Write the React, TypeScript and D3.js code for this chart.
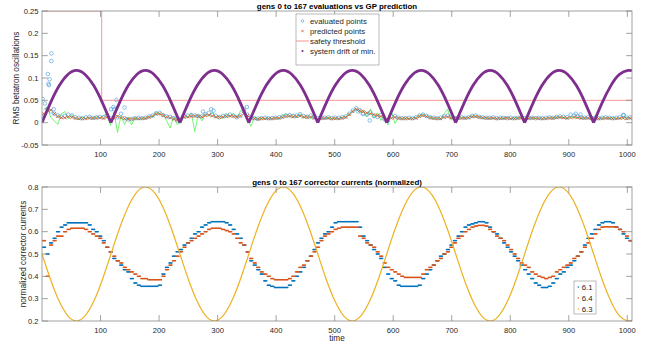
import * as d3 from 'd3'

const W = 647
const H = 343
const FONT = 'Liberation Sans, Arial, Helvetica, sans-serif'
const INK = '#262626'
const AXIS = '#8a8a8a'

const X_TICKS = [100, 200, 300, 400, 500, 600, 700, 800, 900, 1000]
const TOP_Y_TICKS = [-0.05, 0, 0.05, 0.1, 0.15, 0.2, 0.25]
const BOT_Y_TICKS = [0.2, 0.3, 0.4, 0.5, 0.6, 0.7, 0.8]

// one value per generation; generation g covers evaluations 6g+1 .. 6g+6
const EVALUATED = [
  0.015, 0.03, 0.025, 0.02, 0.016, 0.013, 0.015, 0.018, 0.016, 0.012,
  0.011, 0.01, 0.012, 0.013, 0.011, 0.012, 0.013, 0.012, 0.016, 0.01,
  0.03, 0.012, 0.02, 0.01, 0.007, 0.008, 0.01, 0.011, 0.01, 0.011,
  0.014, 0.016, 0.021, 0.022, 0.017, 0.014, 0.013, 0.01, 0.005, 0.008,
  0.014, 0.016, 0.017, 0.016, 0.015, 0.014, 0.019, 0.022, 0.018, 0.015,
  0.012, 0.015, 0.016, 0.018, 0.016, 0.012, 0.016, 0.025, 0.018, 0.012,
  0.01, 0.009, 0.01, 0.011, 0.01, 0.01, 0.011, 0.012, 0.014, 0.016,
  0.017, 0.015, 0.016, 0.019, 0.015, 0.013, 0.016, 0.012, 0.01, 0.011,
  0.011, 0.012, 0.01, 0.011, 0.011, 0.012, 0.014, 0.02, 0.027, 0.032,
  0.028, 0.02, 0.018, 0.023, 0.015, 0.013, 0.017, 0.008, 0.005, 0.014,
  0.015, 0.011, 0.01, 0.01, 0.011, 0.01, 0.012, 0.016, 0.018, 0.015,
  0.012, 0.011, 0.01, 0.011, 0.014, 0.016, 0.013, 0.01, 0.011, 0.012,
  0.011, 0.012, 0.015, 0.016, 0.013, 0.012, 0.011, 0.011, 0.012, 0.01,
  0.011, 0.011, 0.01, 0.011, 0.01, 0.011, 0.012, 0.01, 0.011, 0.011,
  0.01, 0.011, 0.01, 0.011, 0.012, 0.011, 0.013, 0.014, 0.013, 0.012,
  0.018, 0.016, 0.014, 0.012, 0.011, 0.012, 0.01, 0.011, 0.01, 0.011,
  0.012, 0.011, 0.01, 0.011, 0.012, 0.017, 0.011, 0.012,
]
// scattered evaluations away from the band: [time, value]
const EVAL_OUTLIERS: [number, number][] = [
  [1, 0.053], [5, 0.043], [10, 0.109], [11, 0.087], [12, 0.084], [13, 0.097],
  [16, 0.155], [16, 0.138], [20, 0.03], [118, 0.03], [122, 0.035], [127, 0.051],
  [141, 0.034], [275, 0.025], [289, 0.03], [293, 0.027], [345, 0.03], [350, 0.035],
  [540, 0.025], [548, 0.02], [560, 0.005], [912, 0.02], [920, 0.018], [994, 0.017],
]
const PREDICTED = [
  0.02, 0.028, 0.028, 0.02, 0.014, 0.011, 0.011, 0.013, 0.012, 0.01,
  0.009, 0.009, 0.009, 0.01, 0.01, 0.01, 0.011, 0.01, 0.012, 0.008,
  0.01, 0.014, 0.011, 0.009, 0.008, 0.008, 0.009, 0.009, 0.009, 0.01,
  0.012, 0.015, 0.019, 0.02, 0.016, 0.013, 0.011, 0.008, 0.006, 0.007,
  0.012, 0.013, 0.014, 0.015, 0.014, 0.013, 0.016, 0.017, 0.015, 0.013,
  0.012, 0.013, 0.014, 0.015, 0.014, 0.013, 0.015, 0.02, 0.016, 0.01,
  0.009, 0.008, 0.009, 0.009, 0.009, 0.009, 0.01, 0.01, 0.012, 0.014,
  0.015, 0.013, 0.014, 0.015, 0.013, 0.012, 0.013, 0.01, 0.008, 0.009,
  0.01, 0.01, 0.009, 0.009, 0.009, 0.01, 0.012, 0.018, 0.025, 0.03,
  0.027, 0.025, 0.022, 0.02, 0.018, 0.016, 0.014, 0.01, 0.006, 0.01,
  0.012, 0.01, 0.009, 0.009, 0.009, 0.009, 0.01, 0.014, 0.016, 0.014,
  0.011, 0.01, 0.009, 0.009, 0.012, 0.013, 0.011, 0.009, 0.01, 0.01,
  0.01, 0.011, 0.013, 0.014, 0.012, 0.011, 0.01, 0.01, 0.01, 0.009,
  0.009, 0.01, 0.01, 0.009, 0.009, 0.01, 0.01, 0.009, 0.009, 0.01,
  0.01, 0.009, 0.009, 0.009, 0.01, 0.01, 0.011, 0.012, 0.011, 0.01,
  0.011, 0.012, 0.011, 0.01, 0.01, 0.01, 0.009, 0.009, 0.009, 0.009,
  0.01, 0.01, 0.009, 0.009, 0.01, 0.01, 0.009, 0.01,
]
const GREEN_TRACE = [
  0.03, 0.035, 0.012, 0.004, -0.004, 0.02, 0.025, 0.008, 0.018, 0.009,
  0.007, 0.012, 0.009, 0.013, 0.008, 0.014, 0.01, 0.016, 0.02, -0.006,
  0.024, -0.022, 0.016, -0.004, 0.013, -0.005, 0.012, 0.006, 0.011, 0.008,
  0.015, 0.012, 0.024, 0.017, 0.02, 0.004, -0.012, 0.014, -0.004, 0,
  0.02, 0.01, 0.022, -0.02, 0.018, 0.004, 0.02, 0.015, 0.022, 0.01,
  0.016, 0.009, 0.019, 0.012, 0.02, 0.011, 0.026, 0.03, 0.004, -0.008,
  0.012, 0.005, 0.011, 0.008, 0.01, 0.009, 0.012, 0.008, 0.016, 0.02,
  0.012, 0.018, 0.011, 0.02, 0.01, 0.016, 0.008, 0.018, 0.002, 0.011,
  0.008, 0.012, 0.009, 0.011, 0.008, 0.012, 0.014, 0.02, 0.026, 0.03,
  0.022, 0.028, 0.014, 0.03, 0.01, 0.022, 0.005, 0.018, -0.005, 0.025,
  -0.002, 0.012, 0.008, 0.011, 0.009, 0.01, 0.012, 0.016, 0.02, 0.012,
  0.014, 0.008, 0.011, 0.006, 0.02, 0.03, 0.006, 0.014, 0.008, 0.012,
  0.01, 0.012, 0.016, 0.012, 0.014, 0.01, 0.012, 0.008, 0.011, 0.009,
  0.011, 0.008, 0.012, 0.009, 0.011, 0.01, 0.012, 0.008, 0.01, 0.011,
  0.009, 0.011, 0.008, 0.01, 0.012, 0.01, 0.013, 0.011, 0.012, 0.009,
  0.013, 0.011, 0.012, 0.009, 0.011, 0.01, 0.008, 0.01, 0.009, 0.011,
  0.01, 0.009, 0.011, 0.01, 0.009, 0.011, 0.012, 0.01,
]
const SAFETY: [number, number][] = [[0, 0.25], [102, 0.25], [102, 0.05], [1008, 0.05]]

// smooth curves, read at eighth-period steps
const SAMPLE_T = [
  0, 14.7, 29.5, 44.2, 58.9, 73.6, 88.4, 103.1, 117.8, 132.5, 147.3, 162, 176.7, 191.4,
  206.2, 220.9, 235.6, 250.3, 265.1, 279.8, 294.5, 309.2, 324, 338.7, 353.4, 368.1, 382.9,
  397.6, 412.3, 427, 441.8, 456.5, 471.2, 485.9, 500.7, 515.4, 530.1, 544.8, 559.6, 574.3,
  589, 603.7, 618.5, 633.2, 647.9, 662.6, 677.4, 692.1, 706.8, 721.5, 736.3, 751, 765.7,
  780.4, 795.2, 809.9, 824.6, 839.3, 854.1, 868.8, 883.5, 898.2, 913, 927.7, 942.4, 957.1,
  971.9, 986.6, 1001.3, 1008,
]
const DRIFT = [
  0, 0.045, 0.083, 0.108, 0.117, 0.108, 0.083, 0.045,
  0, 0.045, 0.083, 0.108, 0.117, 0.108, 0.083, 0.045,
  0, 0.045, 0.083, 0.108, 0.117, 0.108, 0.083, 0.045,
  0, 0.045, 0.083, 0.108, 0.117, 0.108, 0.083, 0.045,
  0, 0.045, 0.083, 0.108, 0.117, 0.108, 0.083, 0.045,
  0, 0.045, 0.083, 0.108, 0.117, 0.108, 0.083, 0.045,
  0, 0.045, 0.083, 0.108, 0.117, 0.108, 0.083, 0.045,
  0, 0.045, 0.083, 0.108, 0.117, 0.108, 0.083, 0.045,
  0, 0.045, 0.083, 0.108, 0.117, 0.116,
]
const C63 = [
  0.5, 0.385, 0.288, 0.223, 0.2, 0.223, 0.288, 0.385, 0.5, 0.615, 0.712, 0.777, 0.8, 0.777, 0.712, 0.615,
  0.5, 0.385, 0.288, 0.223, 0.2, 0.223, 0.288, 0.385, 0.5, 0.615, 0.712, 0.777, 0.8, 0.777, 0.712, 0.615,
  0.5, 0.385, 0.288, 0.223, 0.2, 0.223, 0.288, 0.385, 0.5, 0.615, 0.712, 0.777, 0.8, 0.777, 0.712, 0.615,
  0.5, 0.385, 0.288, 0.223, 0.2, 0.223, 0.288, 0.385, 0.5, 0.615, 0.712, 0.777, 0.8, 0.777, 0.712, 0.615,
  0.5, 0.385, 0.288, 0.223, 0.2, 0.203,
]
const C61 = [
  0.53, 0.5, 0.55, 0.57, 0.6, 0.62, 0.63, 0.64, 0.64, 0.64,
  0.64, 0.64, 0.64, 0.63, 0.61, 0.6, 0.58, 0.56, 0.53, 0.51,
  0.48, 0.47, 0.45, 0.43, 0.42, 0.39, 0.37, 0.36, 0.355, 0.355,
  0.355, 0.355, 0.355, 0.36, 0.41, 0.44, 0.46, 0.49, 0.51, 0.52,
  0.54, 0.55, 0.57, 0.59, 0.6, 0.62, 0.63, 0.64, 0.645, 0.645,
  0.645, 0.645, 0.64, 0.63, 0.61, 0.59, 0.57, 0.54, 0.51, 0.47,
  0.45, 0.43, 0.41, 0.38, 0.36, 0.355, 0.35, 0.35, 0.35, 0.35,
  0.36, 0.38, 0.4, 0.42, 0.44, 0.47, 0.49, 0.52, 0.55, 0.57,
  0.59, 0.6, 0.62, 0.64, 0.645, 0.645, 0.645, 0.645, 0.645, 0.645,
  0.62, 0.58, 0.56, 0.54, 0.52, 0.5, 0.48, 0.44, 0.41, 0.39,
  0.38, 0.36, 0.355, 0.355, 0.355, 0.355, 0.355, 0.36, 0.39, 0.41,
  0.43, 0.45, 0.47, 0.49, 0.5, 0.52, 0.54, 0.56, 0.58, 0.6,
  0.62, 0.63, 0.635, 0.64, 0.645, 0.645, 0.64, 0.62, 0.6, 0.59,
  0.57, 0.55, 0.53, 0.51, 0.49, 0.47, 0.45, 0.43, 0.41, 0.39,
  0.37, 0.36, 0.35, 0.35, 0.355, 0.37, 0.39, 0.41, 0.42, 0.44,
  0.45, 0.47, 0.49, 0.51, 0.54, 0.57, 0.59, 0.61, 0.63, 0.64,
  0.645, 0.645, 0.64, 0.62, 0.61, 0.59, 0.57, 0.56,
]
const C64 = [
  0.56, 0.4, 0.54, 0.56, 0.58, 0.58, 0.6, 0.61, 0.615, 0.615,
  0.615, 0.615, 0.61, 0.6, 0.59, 0.58, 0.57, 0.55, 0.53, 0.51,
  0.49, 0.47, 0.46, 0.44, 0.43, 0.42, 0.41, 0.4, 0.39, 0.39,
  0.385, 0.385, 0.385, 0.385, 0.4, 0.43, 0.45, 0.47, 0.49, 0.51,
  0.53, 0.55, 0.56, 0.57, 0.58, 0.59, 0.6, 0.61, 0.615, 0.615,
  0.615, 0.61, 0.605, 0.6, 0.59, 0.57, 0.55, 0.54, 0.51, 0.48,
  0.46, 0.44, 0.42, 0.41, 0.4, 0.39, 0.385, 0.385, 0.385, 0.385,
  0.39, 0.4, 0.42, 0.44, 0.45, 0.47, 0.49, 0.51, 0.53, 0.56,
  0.58, 0.59, 0.6, 0.61, 0.615, 0.62, 0.62, 0.62, 0.62, 0.62,
  0.58, 0.57, 0.55, 0.54, 0.53, 0.51, 0.49, 0.46, 0.44, 0.43,
  0.42, 0.41, 0.4, 0.395, 0.395, 0.395, 0.395, 0.395, 0.41, 0.43,
  0.44, 0.45, 0.47, 0.48, 0.5, 0.51, 0.53, 0.55, 0.57, 0.58,
  0.6, 0.61, 0.62, 0.625, 0.628, 0.628, 0.625, 0.61, 0.6, 0.58,
  0.57, 0.56, 0.54, 0.52, 0.5, 0.48, 0.46, 0.45, 0.44, 0.42,
  0.41, 0.4, 0.395, 0.39, 0.395, 0.4, 0.42, 0.43, 0.44, 0.45,
  0.46, 0.48, 0.49, 0.51, 0.53, 0.55, 0.57, 0.59, 0.61, 0.62,
  0.622, 0.622, 0.622, 0.62, 0.61, 0.6, 0.58, 0.56,
]

const BLUE = '#0072BD'
const ORANGE = '#D95319'
const YELLOW = '#EDB120'
const PURPLE = '#7E2F8E'

const genT = (g: number) => 6 * g + 3
const genEvals = (g: number) => d3.range(1, 7).map((k) => 6 * g + k)

const x = d3.scaleLinear().domain([0, 1008]).range([42, 632])
const yTop = d3.scaleLinear().domain([-0.05, 0.25]).range([145, 11])
const yBot = d3.scaleLinear().domain([0.2, 0.8]).range([321, 187])

function Frame({ y, yTicks, fmt }: { y: d3.ScaleLinear<number, number>; yTicks: number[]; fmt: (v: number) => string }) {
  const [x0, x1] = x.range()
  const [yb, yt] = y.range()
  const tl = 5.9
  return (
    <g>
      <rect x={x0} y={yt} width={x1 - x0} height={yb - yt} fill="none" stroke={AXIS} strokeWidth={0.8} />
      {X_TICKS.map((t) => (
        <g key={t}>
          <line x1={x(t)} x2={x(t)} y1={yb} y2={yb - tl} stroke={AXIS} strokeWidth={0.8} />
          <line x1={x(t)} x2={x(t)} y1={yt} y2={yt + tl} stroke={AXIS} strokeWidth={0.8} />
          <text x={x(t)} y={yb + 11.5} textAnchor="middle" fontSize={7.6} fill={INK}>{t}</text>
        </g>
      ))}
      {yTicks.map((v) => (
        <g key={v}>
          <line x1={x0} x2={x0 + tl} y1={y(v)} y2={y(v)} stroke={AXIS} strokeWidth={0.8} />
          <line x1={x1} x2={x1 - tl} y1={y(v)} y2={y(v)} stroke={AXIS} strokeWidth={0.8} />
          <text x={38.5} y={y(v) + 2.7} textAnchor="end" fontSize={7.6} fill={INK}>{fmt(v)}</text>
        </g>
      ))}
    </g>
  )
}

export default function App() {
  const gens = d3.range(EVALUATED.length)

  const green = d3.line<number>().x((g) => x(genT(g))).y((g) => yTop(GREEN_TRACE[g]))(gens) ?? ''
  const safety = d3.line<[number, number]>().x((d) => x(d[0])).y((d) => yTop(d[1]))(SAFETY) ?? ''

  // split drift into arches at its zeros so the cusps stay sharp
  const arches: number[][] = []
  let cur: number[] = []
  DRIFT.forEach((v, i) => {
    cur.push(i)
    if (v === 0 && i > 0) {
      arches.push(cur)
      cur = [i]
    }
  })
  arches.push(cur)
  const driftLine = d3.line<number>().x((i) => x(SAMPLE_T[i])).y((i) => yTop(DRIFT[i])).curve(d3.curveNatural)
  const c63Line = d3.line<number>().x((i) => x(SAMPLE_T[i])).y((i) => yBot(C63[i])).curve(d3.curveNatural)

  return (
    <svg width={W} height={H} style={{ position: 'absolute', left: 0, top: 0, background: '#fff' }} fontFamily={FONT}>
      <defs>
        <clipPath id="clipTop"><rect x={42} y={11} width={590} height={134} /></clipPath>
        <clipPath id="clipBot"><rect x={42} y={187} width={590} height={134} /></clipPath>
      </defs>

      {/* top panel */}
      <g clipPath="url(#clipTop)">
        <path d={green} fill="none" stroke="#39f239" strokeWidth={0.7} />
        {gens.map((g) => (
          <circle key={g} cx={x(genT(g))} cy={yTop(EVALUATED[g])} r={1.8} fill="none" stroke="#3f98d8" strokeWidth={0.6} />
        ))}
        {EVAL_OUTLIERS.map(([t, v], i) => (
          <circle key={'o' + i} cx={x(t)} cy={yTop(v)} r={1.8} fill="none" stroke="#3f98d8" strokeWidth={0.6} />
        ))}
        {gens.map((g) => {
          const cx = x(genT(g))
          const cy = yTop(PREDICTED[g])
          const s = 1.5
          return <path key={'p' + g} d={`M${cx - s},${cy - s}L${cx + s},${cy + s}M${cx - s},${cy + s}L${cx + s},${cy - s}`} stroke={ORANGE} strokeWidth={0.8} />
        })}
        <path d={safety} fill="none" stroke="#f58a8a" strokeWidth={0.9} />
        {arches.map((a, i) => (
          <path key={'a' + i} d={driftLine(a) ?? ''} fill="none" stroke={PURPLE} strokeWidth={2.8} />
        ))}
      </g>
      <Frame y={yTop} yTicks={TOP_Y_TICKS} fmt={(v) => String(v)} />
      <text x={337} y={9.3} textAnchor="middle" fontSize={7.9} fontWeight="bold" fill="#000">gens 0 to 167 evaluations vs GP prediction</text>
      <text transform="translate(18.5,78) rotate(-90)" textAnchor="middle" fontSize={8.2} fill={INK}>RMS betatron oscillations</text>

      {/* top legend */}
      <g fontSize={7.8} fill={INK}>
        <rect x={296} y={14} width={83} height={51} fill="#fff" stroke="#8c8c8c" strokeWidth={0.6} />
        <circle cx={302.5} cy={21} r={1.3} fill="none" stroke="#3f98d8" strokeWidth={0.6} />
        <path d="M301.3,29.8L303.7,32.2M301.3,32.2L303.7,29.8" stroke={ORANGE} strokeWidth={0.7} />
        <line x1={296} x2={309} y1={41} y2={41} stroke="#f58a8a" strokeWidth={0.9} />
        <circle cx={302.5} cy={51} r={1.1} fill={PURPLE} />
        <text x={310} y={23.8}>evaluated points</text>
        <text x={310} y={33.8}>predicted points</text>
        <text x={310} y={43.8}>safety threshold</text>
        <text x={310} y={53.8}>system drift of min.</text>
      </g>

      {/* bottom panel */}
      <g clipPath="url(#clipBot)">
        {gens.map((g) => genEvals(g).map((t) => (
          <rect key={'b' + t} x={x(t) - 0.65} y={yBot(C61[g]) - 0.65} width={1.3} height={1.3} fill={BLUE} />
        )))}
        {gens.map((g) => genEvals(g).map((t) => (
          <rect key={'r' + t} x={x(t) - 0.65} y={yBot(C64[g]) - 0.65} width={1.3} height={1.3} fill={ORANGE} />
        )))}
        <path d={c63Line(d3.range(SAMPLE_T.length)) ?? ''} fill="none" stroke={YELLOW} strokeWidth={1.2} />
      </g>
      <Frame y={yBot} yTicks={BOT_Y_TICKS} fmt={(v) => String(v)} />
      <text x={337} y={185} textAnchor="middle" fontSize={7.9} fontWeight="bold" fill="#000">gens 0 to 167 corrector currents (normalized)</text>
      <text transform="translate(25.5,254) rotate(-90)" textAnchor="middle" fontSize={8.2} fill={INK}>normalized corrector currents</text>
      <text x={337} y={341} textAnchor="middle" fontSize={8.2} fill={INK}>time</text>

      {/* bottom legend */}
      <g fontSize={7.8} fill={INK}>
        <rect x={574} y={281} width={22} height={33} fill="#fff" stroke="#8c8c8c" strokeWidth={0.6} />
        <circle cx={578.3} cy={287} r={0.8} fill={BLUE} />
        <circle cx={578.3} cy={298} r={0.8} fill={ORANGE} />
        <circle cx={578.3} cy={309} r={0.8} fill={YELLOW} />
        <text x={581.7} y={289.8}>6.1</text>
        <text x={581.7} y={300.8}>6.4</text>
        <text x={581.7} y={311.8}>6.3</text>
      </g>
    </svg>
  )
}
